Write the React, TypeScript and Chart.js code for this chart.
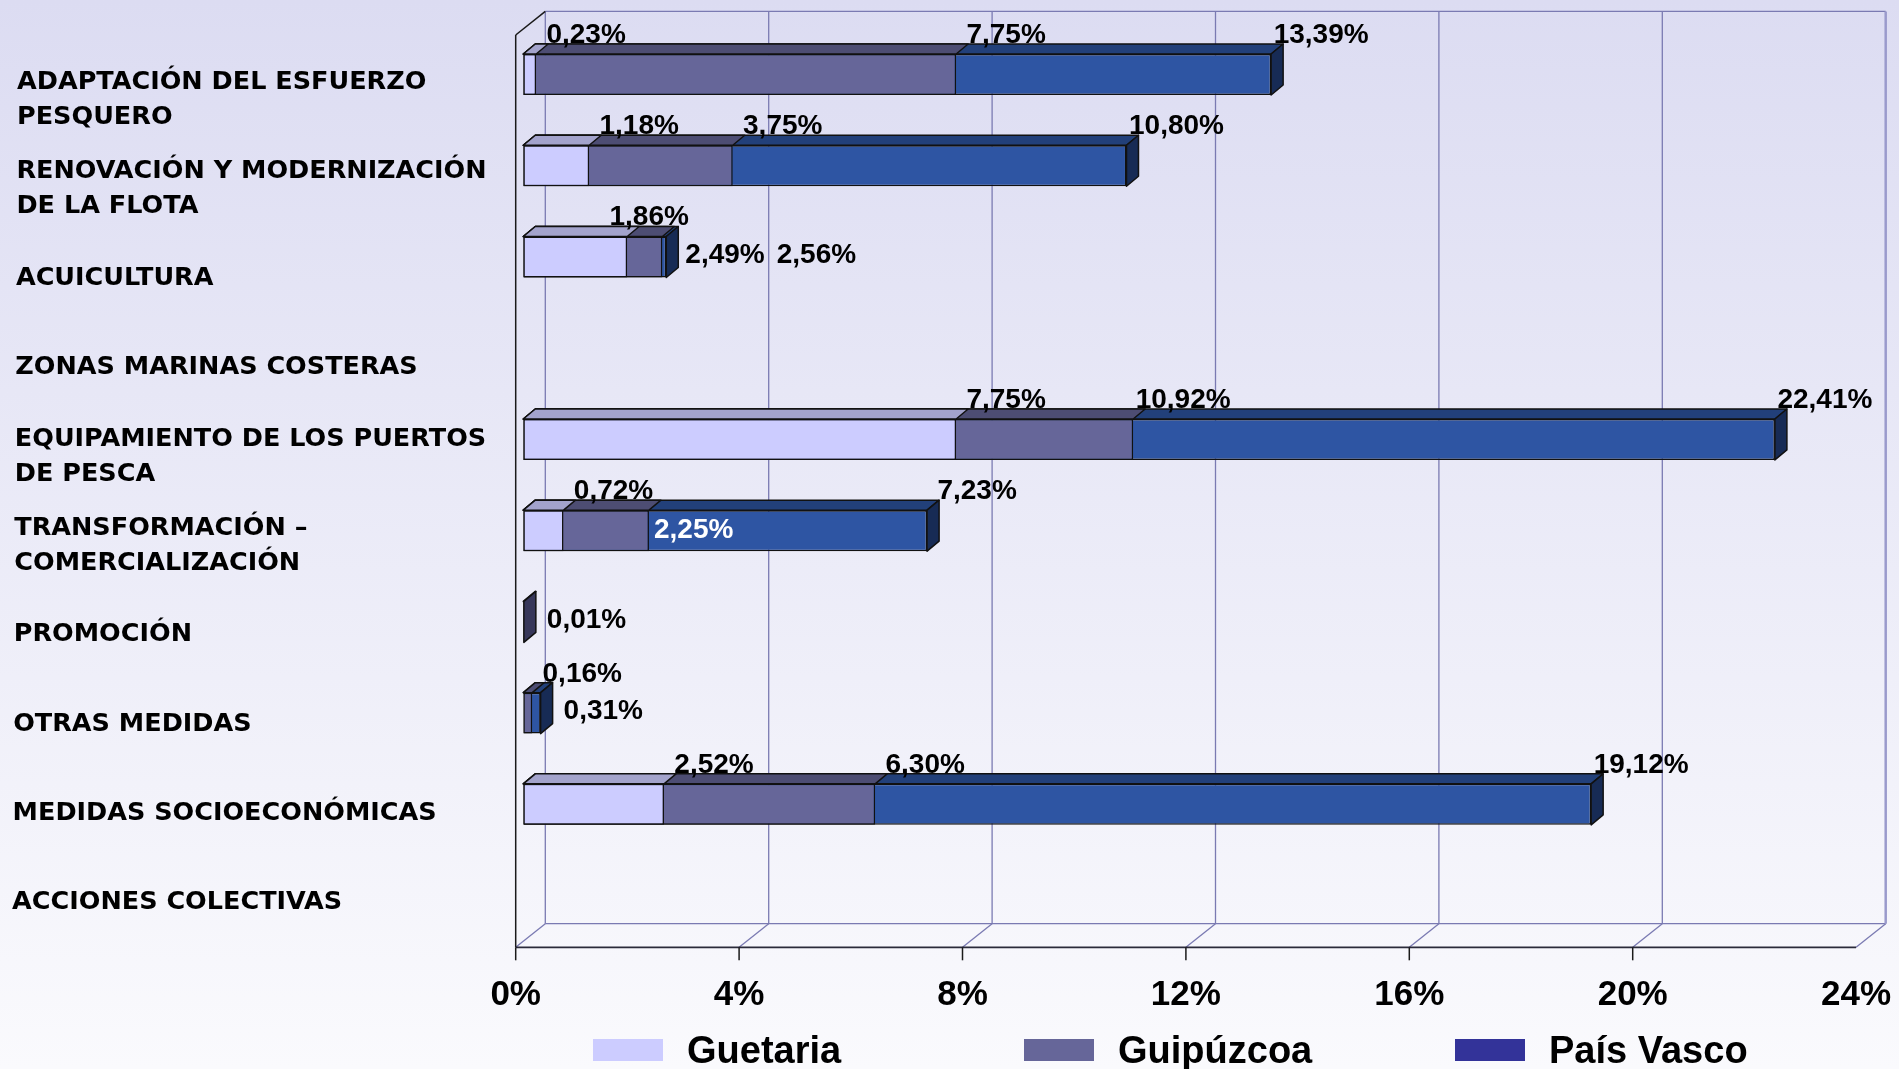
import React, { useEffect, useRef } from "react";
import { Chart, registerables } from "chart.js";

Chart.register(...registerables);

// ---------- DATA ----------
const categories: string[][] = [
  ["ADAPTACIÓN DEL ESFUERZO", "PESQUERO"],
  ["RENOVACIÓN Y MODERNIZACIÓN", "DE LA FLOTA"],
  ["ACUICULTURA"],
  ["ZONAS MARINAS COSTERAS"],
  ["EQUIPAMIENTO DE LOS PUERTOS", "DE PESCA"],
  ["TRANSFORMACIÓN –", "COMERCIALIZACIÓN"],
  ["PROMOCIÓN"],
  ["OTRAS MEDIDAS"],
  ["MEDIDAS SOCIOECONÓMICAS"],
  ["ACCIONES COLECTIVAS"],
];
const seriesNames = ["Guetaria", "Guipúzcoa", "País Vasco"];
const guetaria = [0.23, 1.18, 1.86, null, 7.75, 0.72, null, null, 2.52, null];
const guipuzcoa = [7.75, 3.75, 2.49, null, 10.92, 2.25, 0.01, 0.16, 6.3, null];
const paisVasco = [13.39, 10.8, 2.56, null, 22.41, 7.23, null, 0.31, 19.12, null];
const xTicks = [0, 4, 8, 12, 16, 20, 24];

// label placement per series (style only)
const guetariaLabelPos = ["above", "above", "aboveNear", null, "above", "above", null, null, "above", null];
const guipuzcoaLabelPos = ["above", "above", "right", null, "above", "inside", "right", "above", "above", null];
const paisVascoLabelPos = ["above", "above", "right", null, "above", "above", null, "right", "above", null];

// ---------- STYLE ----------
const frontColors = ["#CCCCFF", "#666699", "#2E55A3"];
const topColors = ["#A3A3CC", "#4D4D73", "#22407A"];
const sideColors = ["#7A7A99", "#37375A", "#172B55"];
const legendColors = ["#CCCCFF", "#666699", "#333399"];
const labelPositions = [guetariaLabelPos, guipuzcoaLabelPos, paisVascoLabelPos];

const DX = 12;
const DY = -10;
const FRONT = { x: -7.6, y: 6.1 };
const BACK = { x: 22, y: -17.5 };

const fmt = (v: number) => v.toFixed(2).replace(".", ",") + "%";

function line(ctx: CanvasRenderingContext2D, x1: number, y1: number, x2: number, y2: number) {
  ctx.beginPath();
  ctx.moveTo(x1, y1);
  ctx.lineTo(x2, y2);
  ctx.stroke();
}
function poly(ctx: CanvasRenderingContext2D, pts: number[][], fill: string) {
  ctx.beginPath();
  ctx.moveTo(pts[0][0], pts[0][1]);
  for (let i = 1; i < pts.length; i++) ctx.lineTo(pts[i][0], pts[i][1]);
  ctx.closePath();
  ctx.fillStyle = fill;
  ctx.fill();
  ctx.stroke();
}

const pseudo3d: any = {
  id: "pseudo3d",
  beforeDraw(chart: any) {
    const { ctx, width, height } = chart;
    const g = ctx.createLinearGradient(0, 0, 0, height);
    g.addColorStop(0, "#DCDCF2");
    g.addColorStop(1, "#FAFAFD");
    ctx.save();
    ctx.fillStyle = g;
    ctx.fillRect(0, 0, width, height);
    ctx.restore();
  },
  beforeDatasetsDraw(chart: any) {
    const { ctx, chartArea: a } = chart;
    const x = chart.scales.x;
    const fx = (v: number) => x.getPixelForValue(v) + FRONT.x;
    const bx = (v: number) => x.getPixelForValue(v) + BACK.x;
    const fTop = a.top + FRONT.y, fBot = a.bottom + FRONT.y;
    const bTop = a.top + BACK.y, bBot = a.bottom + BACK.y;
    const max = xTicks[xTicks.length - 1];
    ctx.save();
    ctx.lineWidth = 1.3;
    ctx.strokeStyle = "#7A7AB2";
    xTicks.forEach((v) => {
      if (v < max) line(ctx, bx(v), bTop, bx(v), bBot);
    });
    line(ctx, bx(0), bTop, bx(max), bTop);
    line(ctx, bx(0), bBot, bx(max), bBot);
    xTicks.forEach((v) => line(ctx, fx(v), fBot, bx(v), bBot));
    ctx.strokeStyle = "#9A9ACC";
    ctx.lineWidth = 2.5;
    line(ctx, bx(max), bTop, bx(max), bBot);
    ctx.strokeStyle = "#1A1A1A";
    ctx.lineWidth = 1.5;
    line(ctx, fx(0), fTop, fx(0), fBot);
    line(ctx, fx(0), fTop, bx(0), bTop);
    ctx.strokeStyle = "#2A2A3A";
    ctx.lineWidth = 1.8;
    line(ctx, fx(0), fBot, fx(max), fBot);
    ctx.strokeStyle = "#1A1A1A";
    ctx.lineWidth = 1.5;
    xTicks.forEach((v) => {
      if (v < max) line(ctx, fx(v), fBot, fx(v), fBot + 13);
    });
    ctx.restore();
  },
  afterDatasetDraw(chart: any, args: any) {
    const k = args.index;
    const meta = args.meta;
    const ctx = chart.ctx;
    const all = chart.data.datasets.map((d: any) => d.data);
    ctx.save();
    ctx.lineWidth = 1.5;
    ctx.strokeStyle = "#111";
    ctx.lineJoin = "round";
    meta.data.forEach((el: any, i: number) => {
      const v = all[k][i];
      if (v == null) return;
      const p = el.getProps(["x", "y", "base", "height"], true);
      const top = p.y - p.height / 2;
      const bot = p.y + p.height / 2;
      poly(ctx, [[p.base, top], [p.x, top], [p.x + DX, top + DY], [p.base + DX, top + DY]], topColors[k]);
      const longest = all.every((d: any, j: number) => j === k || d[i] == null || d[i] <= v);
      if (longest) {
        poly(ctx, [[p.x, top], [p.x + DX, top + DY], [p.x + DX, bot + DY], [p.x, bot]], sideColors[k]);
      }
    });
    ctx.restore();
  },
  afterDraw(chart: any) {
    const { ctx, chartArea: a } = chart;
    const x = chart.scales.x;
    const y = chart.scales.y;
    const all = chart.data.datasets.map((d: any) => d.data);
    ctx.save();

    // data labels
    ctx.font = 'bold 28px "Liberation Sans", Arial, sans-serif';
    for (let i = 0; i < categories.length; i++) {
      let cursor = -Infinity;
      for (let k = 0; k < all.length; k++) {
        const v = all[k][i];
        const pos = labelPositions[k][i];
        if (v == null || !pos) continue;
        const el = chart.getDatasetMeta(k).data[i];
        const p = el.getProps(["x", "y", "base", "height"], true);
        const top = p.y - p.height / 2;
        const txt = fmt(v);
        ctx.fillStyle = "#000";
        ctx.textBaseline = "alphabetic";
        if (pos === "above") {
          ctx.textAlign = "center";
          ctx.fillText(txt, p.x + 50, top + DY - 1);
        } else if (pos === "aboveNear") {
          ctx.textAlign = "center";
          ctx.fillText(txt, p.x + 22, top + DY - 1);
        } else if (pos === "right") {
          ctx.textAlign = "left";
          const lx = Math.max(p.x + DX + 11, cursor + 12);
          ctx.fillText(txt, lx, p.y + 6);
          cursor = lx + ctx.measureText(txt).width;
        } else if (pos === "inside") {
          ctx.textAlign = "left";
          ctx.fillStyle = "#FFFFFF";
          ctx.fillText(txt, p.x + 5, p.y + 7);
        }
      }
    }

    // x tick labels on front floor edge
    const fBot = a.bottom + FRONT.y;
    ctx.font = 'bold 35px "Liberation Sans", Arial, sans-serif';
    ctx.fillStyle = "#000";
    ctx.textAlign = "center";
    xTicks.forEach((v) => {
      ctx.fillText(v + "%", x.getPixelForValue(v) + FRONT.x, fBot + 57.7);
    });

    // category labels
    ctx.font = 'bold 25.5px "DejaVu Sans", sans-serif';
    ctx.textAlign = "left";
    const lh = 35;
    const labels = chart.data.labels;
    labels.forEach((lab: string[], i: number) => {
      const lines = Array.isArray(lab) ? lab : [lab];
      const center = y.getPixelForValue(i) + 23 - 2.1 * i;
      const lx = 17 - 0.55 * i;
      lines.forEach((t, j) => {
        const cy = center - ((lines.length - 1) * lh) / 2 + j * lh;
        ctx.fillText(t, lx, cy + 9.2);
      });
    });

    // legend
    ctx.font = 'bold 38px "Liberation Sans", Arial, sans-serif';
    ctx.textAlign = "left";
    chart.data.datasets.forEach((d: any, k: number) => {
      const sx = 593 + k * 431;
      ctx.fillStyle = legendColors[k];
      ctx.fillRect(sx, 1039, 70, 22);
      ctx.fillStyle = "#000";
      ctx.fillText(d.label, sx + 94, 1063);
    });
    ctx.restore();
  },
};

export default function App() {
  const ref = useRef<HTMLCanvasElement | null>(null);
  useEffect(() => {
    if (!ref.current) return;
    const seriesData = [guetaria, guipuzcoa, paisVasco];
    const chart = new Chart(ref.current, {
      type: "bar",
      data: {
        labels: categories as any,
        datasets: seriesData.map((d, k) => ({
          label: seriesNames[k],
          data: d as any,
          backgroundColor: frontColors[k],
          borderColor: "#111111",
          borderWidth: 1.5,
          borderSkipped: false,
          grouped: false,
          order: k + 1,
          categoryPercentage: 1,
          barPercentage: 0.449,
        })),
      },
      options: {
        indexAxis: "y",
        responsive: false,
        animation: false,
        devicePixelRatio: 1,
        layout: { padding: { left: 523.3, right: 35.3, top: 28.9, bottom: 127.8 } },
        scales: {
          x: { type: "linear", min: 0, max: 24, display: false },
          y: { type: "category", display: false },
        },
        plugins: { legend: { display: false }, tooltip: { enabled: false } },
      } as any,
      plugins: [pseudo3d],
    });
    return () => chart.destroy();
  }, []);
  return (
    <div style={{ position: "fixed", left: 0, top: 0, width: 1899, height: 1069 }}>
      <canvas ref={ref} width={1899} height={1069} style={{ display: "block" }} />
    </div>
  );
}
